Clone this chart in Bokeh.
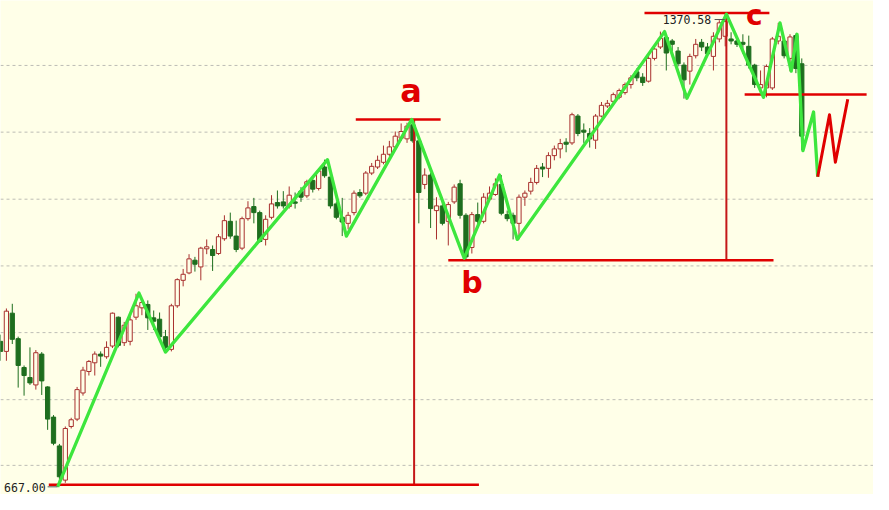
from bokeh.plotting import figure
from bokeh.models import Range1d, Span, ColumnDataSource, Label
from bokeh.embed import file_html
from bokeh.resources import INLINE

# ---------------- data ----------------
opens = [881, 866, 923, 885, 842, 827, 816, 862, 813, 768, 725, 674, 754, 765, 804, 836, 849, 862, 858, 874,
         917, 879, 881, 917, 931, 936, 916, 914, 888, 869, 934, 972, 983, 1002, 992, 1019, 1018, 1012, 1034, 1060,
         1038, 1020, 1064, 1082, 1073, 1033, 1066, 1088, 1089, 1082, 1089, 1105, 1098, 1121, 1109, 1141, 1126, 1086, 1066, 1057,
         1073, 1103, 1102, 1132, 1141, 1148, 1160, 1171, 1184, 1183, 1204, 1180, 1115, 1129, 1076, 1083, 1060, 1089, 1116, 1069,
         1021, 1070, 1060, 1093, 1100, 1115, 1070, 1069, 1057, 1096, 1105, 1118, 1141, 1139, 1158, 1168, 1178, 1177, 1217, 1196,
         1191, 1181, 1217, 1232, 1239, 1245, 1252, 1264, 1283, 1275, 1269, 1303, 1320, 1334, 1329, 1314, 1293, 1284, 1307, 1327,
         1320, 1306, 1332, 1336, 1332, 1329, 1327, 1321, 1293, 1259, 1259, 1259, 1329, 1329, 1303, 1337, 1295]
highs = [891, 930, 937, 888, 845, 872, 868, 865, 814, 771, 728, 754, 767, 813, 843, 853, 866, 866, 881, 924,
         918, 910, 920, 952, 944, 942, 927, 924, 898, 937, 975, 989, 1011, 1007, 1022, 1033, 1024, 1041, 1069, 1073,
         1061, 1067, 1090, 1095, 1076, 1069, 1099, 1106, 1105, 1112, 1103, 1111, 1122, 1125, 1137, 1152, 1132, 1089, 1095, 1074,
         1106, 1108, 1135, 1147, 1158, 1173, 1180, 1194, 1206, 1207, 1212, 1183, 1139, 1132, 1096, 1096, 1089, 1115, 1122, 1072,
         1074, 1088, 1102, 1112, 1124, 1129, 1076, 1073, 1100, 1106, 1125, 1144, 1147, 1163, 1173, 1183, 1184, 1222, 1220, 1206,
         1199, 1220, 1238, 1241, 1252, 1258, 1267, 1278, 1288, 1281, 1308, 1321, 1343, 1339, 1332, 1320, 1297, 1310, 1332, 1332,
         1326, 1342, 1360, 1370.58, 1342, 1336, 1339, 1337, 1295, 1285, 1294, 1335, 1356, 1335, 1339, 1340, 1303]
lows = [852, 852, 877, 812, 800, 816, 809, 801, 749, 726, 667, 670, 751, 762, 800, 830, 830, 843, 855, 871,
        872, 874, 875, 913, 920, 898, 898, 884, 865, 866, 931, 963, 981, 985, 972, 1011, 986, 1010, 1031, 1034,
        1014, 1017, 1061, 1057, 1028, 1024, 1063, 1079, 1079, 1079, 1079, 1089, 1095, 1103, 1106, 1125, 1079, 1063, 1038, 1048,
        1069, 1095, 1099, 1129, 1138, 1145, 1157, 1168, 1180, 1177, 1177, 1057, 1108, 1050, 1033, 1054, 1024, 1086, 1064, 1003,
        1012, 1054, 1057, 1090, 1098, 1069, 1060, 1033, 1033, 1083, 1100, 1115, 1126, 1125, 1151, 1154, 1163, 1174, 1187, 1177,
        1170, 1168, 1215, 1229, 1235, 1242, 1249, 1258, 1269, 1262, 1267, 1300, 1317, 1285, 1314, 1291, 1243, 1264, 1303, 1314,
        1306, 1285, 1327, 1321, 1324, 1320, 1310, 1288, 1259, 1255, 1245, 1256, 1324, 1303, 1284, 1281, 1166]
closes = [866, 926, 884, 845, 830, 819, 864, 822, 765, 729, 679, 751, 764, 809, 838, 851, 862, 859, 872, 923,
          875, 905, 913, 934, 939, 916, 911, 888, 872, 934, 973, 981, 1004, 996, 1020, 1022, 1009, 1037, 1061, 1038,
          1018, 1064, 1080, 1073, 1030, 1063, 1086, 1083, 1083, 1099, 1087, 1096, 1119, 1108, 1135, 1128, 1083, 1066, 1059, 1069,
          1102, 1098, 1132, 1142, 1151, 1160, 1171, 1187, 1194, 1202, 1180, 1103, 1129, 1079, 1083, 1057, 1085, 1111, 1069, 1007,
          1070, 1060, 1096, 1102, 1116, 1072, 1064, 1057, 1096, 1102, 1118, 1139, 1138, 1158, 1168, 1176, 1175, 1219, 1191, 1193,
          1183, 1217, 1233, 1236, 1249, 1255, 1264, 1274, 1274, 1267, 1303, 1317, 1333, 1311, 1324, 1295, 1271, 1306, 1324, 1320,
          1310, 1336, 1356, 1358, 1329, 1324, 1324, 1293, 1264, 1264, 1291, 1332, 1336, 1307, 1335, 1288, 1187]

# horizontal dashed grid levels
grid_levels = [696, 794, 894, 993.5, 1093, 1193, 1292.5]

# wave zigzag (candle index, price)
wave_x = [9.7, 23.5, 28, 55.5, 58.7, 69.8, 78.7, 84.7, 87.7, 112.7, 116.5, 123.2, 129.5, 132.3, 134.2, 135.2, 136.2, 138, 138.7]
wave_y = [664, 953, 865, 1152, 1038, 1212, 1005, 1129, 1033, 1343, 1243.5, 1369, 1245, 1356, 1284, 1339, 1165.5, 1223, 1126.5]

# projected (red) wave
proj_x = [138.7, 140.7, 141.7, 143.8]
proj_y = [1126.5, 1219, 1148, 1242]

# key points
low_idx, low_price = 10, 667.00
a_idx, a_price = 70, 1212
b_idx, b_price = 79, 1002
c_idx, c_price = 123, 1370.58
neck_price = 1249

# red horizontal levels and their extents (candle index)
h_levels = [low_price, a_price, b_price, c_price, neck_price]
h_x0 = [8.2, 60.3, 76, 109.3, 126.3]
h_x1 = [81.2, 74.7, 131.2, 130.5, 147]

# red vertical measuring lines
v_x = [70.2, 123.2]
v_y0 = [low_price, b_price]
v_y1 = [a_price, c_price]

# ---------------- styles ----------------
BG = "#FFFFE8"
UP = "#A8302E"
DOWN = "#1E6E1E"
WAVE = "#3DE63D"
RED = "#E00000"
VRED = "#C41818"

n = len(opens)
idx = list(range(n))
up = [closes[i] >= opens[i] for i in idx]

src_up = ColumnDataSource(dict(
    x=[i for i in idx if up[i]],
    top=[closes[i] for i in idx if up[i]],
    bottom=[opens[i] for i in idx if up[i]],
    h=[highs[i] for i in idx if up[i]],
    l=[lows[i] for i in idx if up[i]],
))
src_dn = ColumnDataSource(dict(
    x=[i for i in idx if not up[i]],
    top=[opens[i] for i in idx if not up[i]],
    bottom=[closes[i] for i in idx if not up[i]],
    h=[highs[i] for i in idx if not up[i]],
    l=[lows[i] for i in idx if not up[i]],
))

p = figure(width=873, height=494,
           x_range=Range1d(0, 148.17), y_range=Range1d(652.55, 1389.37),
           x_axis_type=None, y_axis_type=None,
           output_backend="svg", toolbar_location=None, min_border=0,
           background_fill_color=BG, border_fill_color=BG,
           outline_line_color=None)

for g in grid_levels:
    p.add_layout(Span(location=g, dimension="width", line_color="#BDBDB5",
                      line_width=1, line_dash="3 3", level="underlay"))

# candles
p.segment(x0="x", y0="h", x1="x", y1="l", source=src_up, line_color=UP, line_width=1)
p.vbar(x="x", top="top", bottom="bottom", width=0.72, source=src_up,
       fill_color=BG, line_color=UP, line_width=1)
p.segment(x0="x", y0="h", x1="x", y1="l", source=src_dn, line_color=DOWN, line_width=1)
p.vbar(x="x", top="top", bottom="bottom", width=0.72, source=src_dn,
       fill_color=DOWN, line_color=DOWN, line_width=1)

# red measuring lines
p.segment(x0=v_x, y0=v_y0, x1=v_x, y1=v_y1, line_color=VRED, line_width=2)
p.segment(x0=h_x0, y0=h_levels, x1=h_x1, y1=h_levels, line_color=RED, line_width=2.5)

# waves
p.line(wave_x, wave_y, line_color=WAVE, line_width=3.3, line_join="round")
p.line(proj_x, proj_y, line_color=RED, line_width=3, line_join="round")

# price labels
p.segment(x0=[121.2, 8.0], y0=[1361, 664], x1=[122.9, 9.7], y1=[1361, 664],
          line_color="#555555", line_width=1)
p.add_layout(Label(x=c_idx, y=c_price, text="1370.58", x_offset=-14, y_offset=-6,
                   text_align="right", text_baseline="middle",
                   text_font="DejaVu Sans Mono", text_font_size="11.5px", text_color="#222222"))
p.add_layout(Label(x=0.6, y=low_price, text="667.00", x_offset=0, y_offset=-3,
                   text_align="left", text_baseline="middle",
                   text_font="DejaVu Sans Mono", text_font_size="11.5px", text_color="#222222"))

# wave letters
p.add_layout(Label(x=a_idx, y=a_price, text="a", x_offset=-2, y_offset=28,
                   text_align="center", text_baseline="alphabetic",
                   text_font="DejaVu Sans", text_font_style="bold",
                   text_font_size="32px", text_color=RED))
p.add_layout(Label(x=b_idx, y=b_price, text="b", x_offset=6, y_offset=-22,
                   text_align="center", text_baseline="alphabetic",
                   text_font="DejaVu Sans", text_font_style="bold",
                   text_font_size="30px", text_color=RED))
p.add_layout(Label(x=c_idx, y=c_price, text="c", x_offset=29, y_offset=-2,
                   text_align="center", text_baseline="alphabetic",
                   text_font="DejaVu Sans", text_font_style="bold",
                   text_font_size="28px", text_color=RED))

open("out.html", "w").write(file_html(p, INLINE))
